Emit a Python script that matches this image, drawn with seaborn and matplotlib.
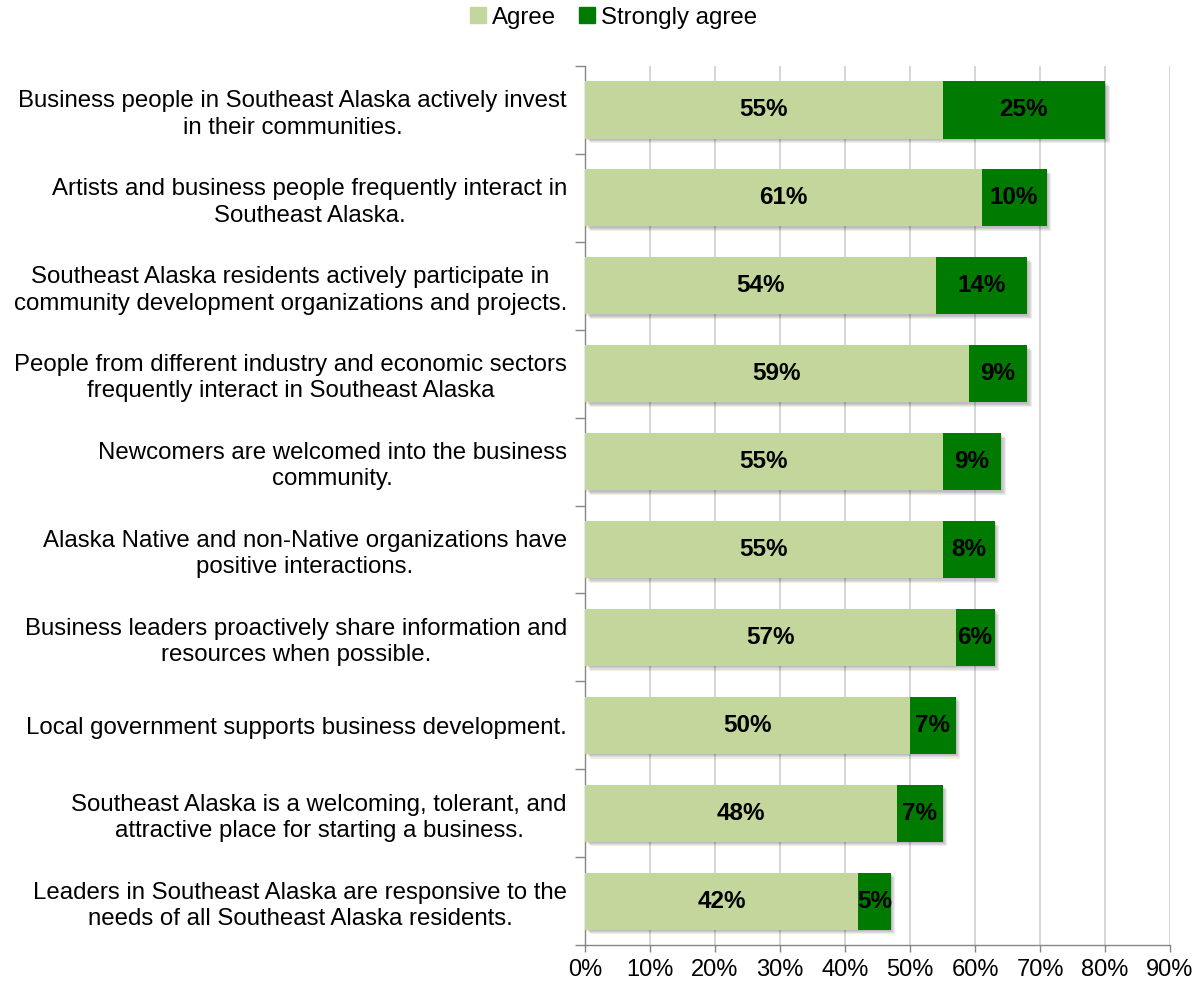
import numpy as np
import pandas as pd
import matplotlib
matplotlib.use("Agg")
import matplotlib.pyplot as plt
import matplotlib.patheffects as pe
from matplotlib.ticker import FixedLocator, PercentFormatter
import seaborn as sns

statements = [
    "Business people in Southeast Alaska actively invest\nin their communities.",
    "Artists and business people frequently interact in\nSoutheast Alaska.",
    "Southeast Alaska residents actively participate in\ncommunity development organizations and projects.",
    "People from different industry and economic sectors\nfrequently interact in Southeast Alaska",
    "Newcomers are welcomed into the business\ncommunity.",
    "Alaska Native and non-Native organizations have\npositive interactions.",
    "Business leaders proactively share information and\nresources when possible.",
    "Local government supports business development.",
    "Southeast Alaska is a welcoming, tolerant, and\nattractive place for starting a business.",
    "Leaders in Southeast Alaska are responsive to the\nneeds of all Southeast Alaska residents.",
]
agree = [55, 61, 54, 59, 55, 55, 57, 50, 48, 42]
strongly_agree = [25, 10, 14, 9, 9, 8, 6, 7, 7, 5]
series_names = ["Agree", "Strongly agree"]
x_ticks = [0, 10, 20, 30, 40, 50, 60, 70, 80, 90]

LIGHT = "#C3D69B"
DARK = "#007A00"

df = pd.DataFrame({"statement": statements, "agree": agree, "strong": strongly_agree})
df["total"] = df["agree"] + df["strong"]

sns.set_theme(style="white")
plt.rcParams["font.family"] = ["Liberation Sans", "DejaVu Sans"]
plt.rcParams["text.color"] = "black"
plt.rcParams["xtick.color"] = "black"
plt.rcParams["ytick.color"] = "black"

fig = plt.figure(figsize=(12.03, 9.84), dpi=100)
ax = fig.add_axes([0.4863, 0.0396, 0.4863, 0.8933])

# soft drop shadow built from a few faint offset layers
shadow = [pe.SimplePatchShadow(offset=(o, -o), shadow_rgbFace="#000000", alpha=0.07)
          for o in (1.0, 1.8, 2.6, 3.4)] + [pe.Normal()]

sns.barplot(data=df, y="statement", x="total", orient="h", color=DARK,
            saturation=1, width=0.65, ax=ax, zorder=3)
n_total = len(ax.patches)
sns.barplot(data=df, y="statement", x="agree", orient="h", color=LIGHT,
            saturation=1, width=0.65, ax=ax, zorder=4)
for i, p in enumerate(ax.patches):
    p.set_linewidth(0)
    if i < n_total:
        p.set_path_effects(shadow)

# value labels centred in each segment
for i, (a, s) in enumerate(zip(agree, strongly_agree)):
    ax.text(a / 2, i, f"{a}%", ha="center", va="center", fontsize=17.5,
            fontweight="bold", color="black", zorder=6)
    ax.text(a + s / 2, i, f"{s}%", ha="center", va="center", fontsize=17.5,
            fontweight="bold", color="black", zorder=6)

ax.set_xlim(0, 90)
ax.set_ylim(len(statements) - 0.5, -0.5)
ax.xaxis.set_major_locator(FixedLocator(x_ticks))
ax.xaxis.set_major_formatter(PercentFormatter(decimals=0))
ax.set_xlabel("")
ax.set_ylabel("")

ax.grid(axis="x", color="#D0D0D0", linewidth=1.2, zorder=0)
ax.set_axisbelow(True)

for side in ["top", "right"]:
    ax.spines[side].set_visible(False)
for side in ["left", "bottom"]:
    ax.spines[side].set_visible(True)
    ax.spines[side].set_color("#868686")
    ax.spines[side].set_linewidth(1.0)

ax.tick_params(axis="x", which="major", direction="out", length=5, width=1,
               color="#868686", labelcolor="black", labelsize=17, pad=5, bottom=True)
ax.tick_params(axis="y", which="major", length=0, labelsize=17.3,
               labelcolor="black", pad=13)
ax.yaxis.set_minor_locator(FixedLocator(np.arange(-0.5, len(statements), 1.0)))
ax.tick_params(axis="y", which="minor", direction="out", length=7, width=1,
               color="#868686", left=True)
for lbl in ax.get_yticklabels():
    lbl.set_multialignment("center")
    lbl.set_linespacing(1.25)

handles = [plt.Rectangle((0, 0), 1, 1, color=LIGHT), plt.Rectangle((0, 0), 1, 1, color=DARK)]
fig.legend(handles, series_names, loc="center", bbox_to_anchor=(0.51, 0.982),
           ncol=2, frameon=False, fontsize=17.3, handlelength=0.65, handleheight=0.65,
           handletextpad=0.25, columnspacing=0.95, borderpad=0)

fig.savefig("out.png", dpi=100)
